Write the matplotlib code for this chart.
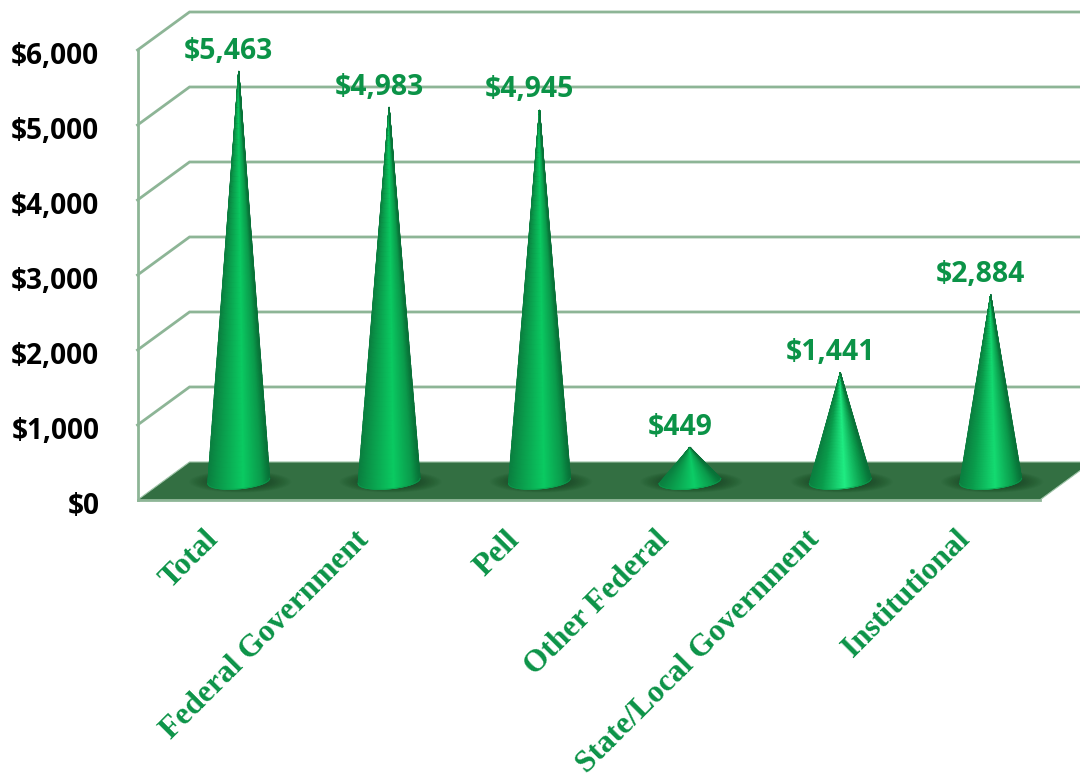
import numpy as np
import matplotlib
matplotlib.use("Agg")
import matplotlib.pyplot as plt
from matplotlib.colors import LinearSegmentedColormap
from matplotlib.patches import Ellipse, Polygon
from matplotlib.transforms import ScaledTranslation

categories = ["Total", "Federal Government", "Pell", "Other Federal",
              "State/Local Government", "Institutional"]
heights = [5463, 4983, 4945, 449, 1441, 2480]
value_labels = ["$5,463", "$4,983", "$4,945", "$449", "$1,441", "$2,884"]
y_ticks = [0, 1000, 2000, 3000, 4000, 5000, 6000]

GREEN = "#0b9347"
GRID = "#8db596"
FLOOR = "#336f42"
highlights = ["#0acb62", "#0acb62", "#0acb62", "#0ccf68", "#20ee84", "#14dc72"]
LABEL_FONT = "Open Sans"

# depth of the fake 3d box, in axis units
dx = 0.346
dy = 507

fig = plt.figure(figsize=(10.8, 7.73), dpi=100)
ax = fig.add_axes([137.5 / 1080, 273 / 773, 942.5 / 1080, 500 / 773])
ax.set_xlim(0, 6.267)
ax.set_ylim(0, 6667)

for side in ["top", "right"]:
    ax.spines[side].set_visible(False)
for side in ["left", "bottom"]:
    ax.spines[side].set_color(GRID)
    ax.spines[side].set_linewidth(2.0)
ax.spines["left"].set_bounds(0, 6000)
ax.spines["bottom"].set_bounds(0, 6)

# walls
for v in y_ticks[1:]:
    ax.plot([0, dx, 6 + dx], [v, v + dy, v + dy], color=GRID, lw=2.0,
            zorder=1, clip_on=False, solid_joinstyle="miter")

# floor
floor = Polygon([(0, 0), (6, 0), (6 + dx, dy), (dx, dy)], closed=True,
                facecolor=FLOOR, edgecolor="#9fc4a8", lw=0.8, zorder=2)
ax.add_patch(floor)

u = np.linspace(-1, 1, 121)
t = np.linspace(0, 1, 80)
U, T = np.meshgrid(u, t)
r = 0.206
b = 105
tilt = 35

for i, h in enumerate(heights):
    cx = i + 0.5 + dx / 2
    y0 = dy / 2

    # soft shadow on the floor
    for k in np.linspace(1, 0.4, 24):
        e = Ellipse((cx + 0.01, y0 - 10), 0.68 * k, 290 * k, facecolor="#123d1e",
                    alpha=0.04, lw=0, zorder=3)
        ax.add_patch(e)
        e.set_clip_path(floor)

    cmap = LinearSegmentedColormap.from_list(
        "cone" + str(i),
        [(0, "#0a8040"), (0.2, "#0a9c4c"), (0.58, highlights[i]),
         (0.88, "#0a9a4b"), (1, "#087238")])
    X = cx + T * r * U
    Y = (y0 + h) * (1 - T) + T * (y0 - b * np.sqrt(1 - U ** 2) + tilt * U)
    ax.pcolormesh(X, Y, (U + 1) / 2, cmap=cmap, shading="gouraud", zorder=4,
                  vmin=0, vmax=1)
    # thin edge so the mesh outline is not jagged
    ax.plot(X[:, 0], Y[:, 0], color="#0a8040", lw=0.7, alpha=0.7, zorder=5)
    ax.plot(X[:, -1], Y[:, -1], color="#087238", lw=0.7, alpha=0.7, zorder=5)
    ax.plot(X[-1, :], Y[-1, :], color="#0a9c4c", lw=0.7, alpha=0.7, zorder=5)

    # green value label over the tip
    ax.annotate(value_labels[i], (cx, y0 + h), xytext=(-7.2, 14.5),
                textcoords="offset points", ha="center", va="center",
                color=GREEN, fontsize=20.4, fontweight="bold", family=LABEL_FONT,
                zorder=6)

ax.set_yticks(y_ticks)
ax.set_yticklabels(["${:,}".format(v) for v in y_ticks], fontsize=20.2,
                   fontweight="bold", family=LABEL_FONT, color="black")
ax.tick_params(axis="y", length=0, pad=27.5)
yshift = ScaledTranslation(0, -2.5 / 100, fig.dpi_scale_trans)
for lab in ax.get_yticklabels():
    lab.set_transform(lab.get_transform() + yshift)

ax.set_xticks(np.arange(len(categories)) + 0.5)
ax.set_xticklabels(categories, rotation=45, ha="right", rotation_mode="anchor",
                   fontsize=22.7, fontweight="bold", family="Liberation Serif",
                   color=GREEN)
ax.tick_params(axis="x", length=0, pad=18)
shift = ScaledTranslation(-9 / 100, 0, fig.dpi_scale_trans)
for lab in ax.get_xticklabels():
    lab.set_transform(lab.get_transform() + shift)

ax.patch.set_alpha(0)
fig.savefig("out.png", dpi=100)
